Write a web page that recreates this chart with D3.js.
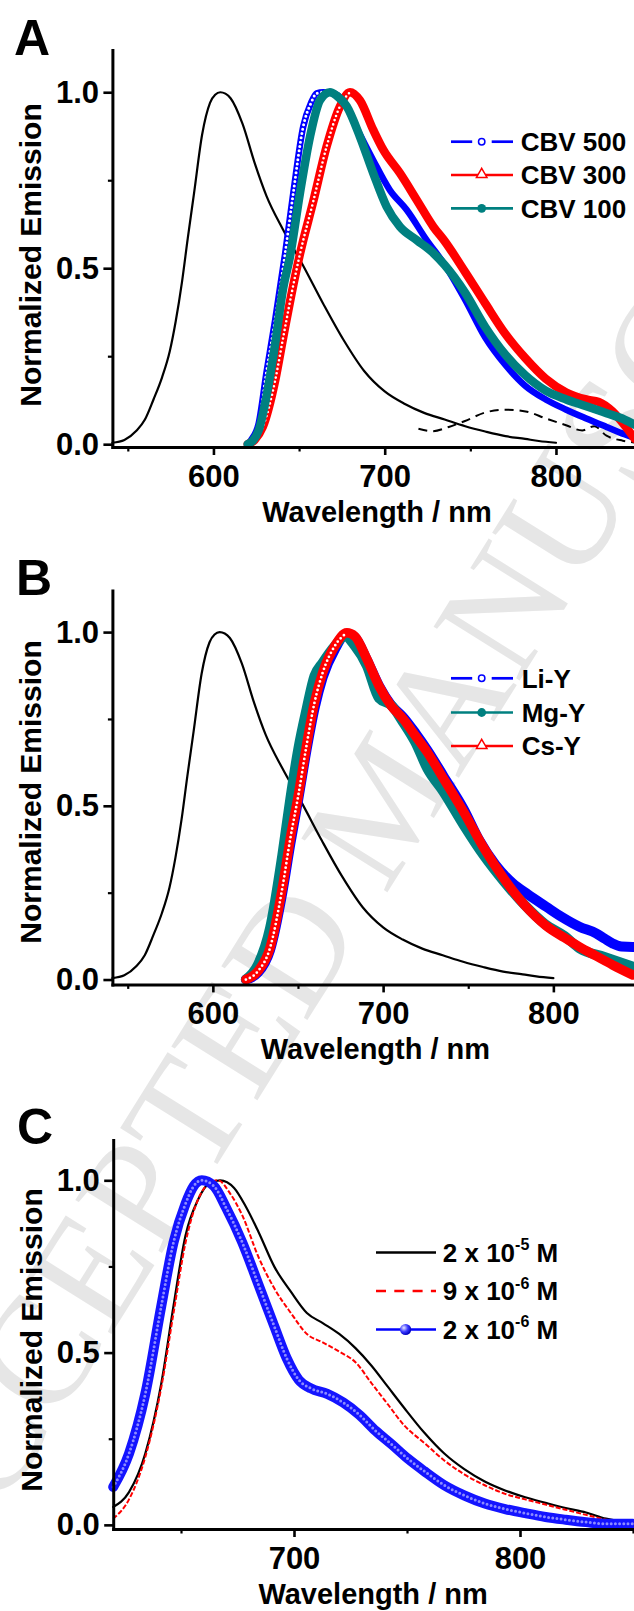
<!DOCTYPE html>
<html>
<head>
<meta charset="utf-8">
<script src="https://cdn.jsdelivr.net/npm/d3@7"></script>
<style>
  body { margin: 0; background: #fff; }
  svg { display: block; }
  text { font-family: "Liberation Sans", Arial, sans-serif; font-weight: bold; }
</style>
</head>
<body>
<svg id="chart"></svg>
<script>
// emission spectra, [wavelength nm, normalized emission]
const refEmission = [[541,0.004],[548,0.012],[555,0.038],[560,0.07],[565,0.127],[570,0.19],[574.5,0.264],[578,0.35],[581.6,0.46],[585,0.585],[588.7,0.714],[593.4,0.88],[598,0.97],[601,0.993],[604,1.0],[607,0.996],[610,0.983],[617,0.91],[624,0.80],[631,0.705],[640.6,0.61],[652.4,0.507],[664,0.40],[676,0.296],[688,0.208],[700,0.15],[711.5,0.115],[723,0.089],[735,0.07],[747,0.051],[758.7,0.036],[770.5,0.023],[782,0.015],[790,0.009],[800,0.004]];
const refDashed = [[719.7,0.044],[728,0.037],[737.4,0.049],[746.9,0.066],[758.7,0.09],[770.5,0.098],[782.3,0.093],[794.1,0.073],[805.9,0.054],[815.3,0.039],[822.4,0.051],[829.5,0.024],[839,0.01],[845.6,0.005]];

// panel A
const cbv500 = [[620,0],[622,0.012],[626.4,0.059],[631,0.205],[636,0.352],[641.8,0.54],[646.6,0.713],[652.4,0.902],[657,0.97],[660.3,0.997],[664,1.0],[669,0.998],[676,0.975],[683,0.905],[693.3,0.807],[703,0.722],[712.8,0.666],[724.5,0.58],[735,0.51],[747,0.41],[758.7,0.303],[770.5,0.225],[782,0.166],[794,0.127],[806,0.098],[817.7,0.073],[829.5,0.049],[840,0.028],[850,0.01]];
const cbv300 = [[620,0],[624,0.012],[628.8,0.049],[636,0.18],[640.6,0.30],[645.3,0.42],[650.5,0.54],[658.3,0.69],[666.1,0.846],[673.9,0.96],[679.7,1.0],[685.5,0.977],[693.3,0.893],[699.2,0.836],[708.9,0.77],[718.7,0.694],[728.4,0.618],[735,0.577],[747,0.489],[758.7,0.40],[770.5,0.313],[782,0.245],[794,0.186],[806,0.147],[817.7,0.127],[825,0.12],[833,0.093],[840,0.054],[846,0.015]];
const cbv100 = [[620,0],[623,0.01],[626.4,0.039],[631,0.137],[636,0.284],[640.6,0.44],[644.7,0.533],[650.5,0.713],[656.4,0.874],[662.2,0.977],[668,1.0],[672,0.99],[677.8,0.96],[685.5,0.874],[693.3,0.77],[701.1,0.675],[708.9,0.618],[718.7,0.58],[728.4,0.543],[735,0.509],[747,0.43],[758.7,0.333],[770.5,0.254],[782,0.196],[794,0.152],[806,0.127],[817.7,0.108],[829.5,0.088],[840,0.07],[846,0.055]];

// panel B
const liY = [[619.4,0],[626.5,0.02],[633.6,0.085],[640.8,0.25],[645.5,0.39],[650.2,0.52],[655,0.66],[659.7,0.78],[664.5,0.87],[671.6,0.95],[678.7,0.995],[683.4,0.985],[690.5,0.92],[697.6,0.845],[704.7,0.79],[711.8,0.755],[718.9,0.71],[726,0.66],[735.5,0.585],[747.4,0.49],[756.6,0.40],[766,0.33],[776.1,0.277],[785,0.245],[795.7,0.21],[805,0.18],[815.3,0.152],[825.1,0.133],[830,0.118],[834.8,0.104],[840,0.095],[846.6,0.094],[852,0.094]];
const mgY = [[619.4,0],[626.5,0.043],[633.6,0.148],[640.8,0.358],[645.5,0.52],[650.2,0.664],[655,0.777],[659.7,0.874],[664.5,0.912],[671.6,0.96],[677.5,0.988],[683.4,0.96],[690.5,0.903],[697.6,0.81],[704.7,0.79],[711.8,0.74],[718.9,0.683],[726,0.607],[735.5,0.54],[747.4,0.444],[759,0.358],[771,0.282],[783,0.215],[795,0.16],[806.6,0.125],[815.3,0.09],[830,0.065],[846.6,0.037]];
const csY = [[619.4,0],[626.5,0.024],[633.6,0.091],[640.8,0.263],[645.5,0.406],[650.2,0.53],[655,0.673],[659.7,0.797],[664.5,0.883],[671.6,0.96],[678.7,0.998],[683.4,0.988],[690.5,0.922],[697.6,0.845],[704.7,0.788],[711.8,0.75],[718.9,0.702],[726,0.654],[735.5,0.578],[747.4,0.482],[759,0.38],[771,0.29],[783,0.215],[795.7,0.155],[806.6,0.12],[815.3,0.094],[825,0.068],[834.8,0.042],[846.6,0.013]];

// panel C
const conc2e5 = [[620,0.052],[627,0.095],[634.2,0.207],[641.3,0.411],[646.7,0.636],[652,0.84],[657.4,0.942],[662.8,0.993],[667.3,1.0],[673.5,0.978],[678.9,0.921],[684.3,0.85],[691.4,0.748],[698.6,0.677],[705.7,0.615],[712.9,0.585],[720,0.554],[727.2,0.513],[734.3,0.462],[741.5,0.401],[748.7,0.34],[757.6,0.268],[766.5,0.207],[775.5,0.161],[784.4,0.126],[793.4,0.10],[802.3,0.08],[811.3,0.064],[820.2,0.049],[829.2,0.036],[838,0.018],[850,0.005]];
const conc9e6 = [[620,0.018],[627,0.074],[634.2,0.197],[641.3,0.40],[646.7,0.615],[652,0.819],[657.4,0.942],[662.8,0.993],[666.4,1.0],[671.7,0.962],[677,0.90],[684.3,0.777],[691.4,0.685],[698.6,0.615],[705.7,0.554],[712.9,0.529],[720,0.503],[727.2,0.472],[734.3,0.411],[741.5,0.35],[748.7,0.289],[757.6,0.238],[766.5,0.187],[775.5,0.146],[784.4,0.115],[793.4,0.09],[802.3,0.074],[811.3,0.059],[820.2,0.044],[829.2,0.029],[838,0.015],[850,0.004]];
const conc2e6 = [[620,0.11],[627,0.207],[634.2,0.38],[641.3,0.636],[646.7,0.82],[652,0.932],[655.6,0.983],[659.2,1.0],[664.6,0.983],[669.9,0.921],[677.1,0.82],[684.3,0.697],[691.4,0.574],[696.8,0.483],[702.1,0.421],[707.5,0.396],[714.7,0.38],[721.8,0.355],[729,0.319],[736.1,0.273],[743.3,0.233],[750.4,0.192],[757.6,0.156],[766.5,0.115],[775.5,0.085],[784.4,0.062],[793.4,0.046],[802.3,0.034],[811.3,0.023],[820.2,0.015],[829.2,0.008],[838,0.003],[850,0.003]];

// ticks and labels
const yTicks = [0, 0.5, 1.0];
const yMinor = [0.25, 0.75];
const xTicksAB = [600, 700, 800];
const xMinorAB = [550, 650, 750, 850];
const xTicksC = [700, 800];
const xMinorC = [650, 750, 850];
const legendA = ['CBV 500', 'CBV 300', 'CBV 100'];
const legendB = ['Li-Y', 'Mg-Y', 'Cs-Y'];
const legendC = [['2 x 10', '-5'], ['9 x 10', '-6'], ['2 x 10', '-6']];

const W = 634, H = 1611;
const BLUE = '#0000ff', RED = '#ff0000', TEAL = '#008080';

const svg = d3.select('#chart').attr('width', W).attr('height', H);

const defs = svg.append('defs');
const grad = defs.append('radialGradient').attr('id', 'ball')
  .attr('cx', '35%').attr('cy', '35%').attr('r', '65%');
grad.append('stop').attr('offset', '0%').attr('stop-color', '#e8e8ff');
grad.append('stop').attr('offset', '55%').attr('stop-color', '#3a3aff');
grad.append('stop').attr('offset', '100%').attr('stop-color', '#0000c0');

// watermark
svg.append('text')
  .attr('transform', 'translate(-60,1608) rotate(-58)')
  .style('font-family', '"Liberation Serif", "Times New Roman", serif')
  .style('font-weight', 'normal')
  .attr('font-size', 155)
  .attr('fill', '#e6e6e6')
  .text('ACCEPTED MANUSCRIPT');

const panels = [
  {
    label: 'A', labelX: 14, labelY: 55,
    xRange: [112.4, 641.6], xDomain: [541, 850],
    yRange: [447, 50], yDomain: [-0.008, 1.12],
    xTicks: xTicksAB, xMinor: xMinorAB, yTitleY: 255,
    series: [
      { data: refEmission, kind: 'line', color: '#000', width: 2.2 },
      { data: refDashed, kind: 'line', color: '#000', width: 2, dash: '9 6' },
      { data: cbv500, kind: 'hollow', color: BLUE, width: 6.5, hole: 3, gap: 4.4, holeTo: 664 },
      { data: cbv300, kind: 'hollow', color: RED, width: 8.5, hole: 2.6, gap: 4.4, holeTo: 679.7 },
      { data: cbv100, kind: 'band', color: TEAL, width: 8.5 }
    ],
    legend: {
      rows: [141.7, 175, 208.3], x0: 451, x1: 513, mx: 481.7, tx: 520.7,
      items: [
        { text: legendA[0], color: BLUE, marker: 'circle', split: true },
        { text: legendA[1], color: RED, marker: 'triangle' },
        { text: legendA[2], color: TEAL, marker: 'dot' }
      ]
    }
  },
  {
    label: 'B', labelX: 16, labelY: 594.7,
    xRange: [112.4, 638.5], xDomain: [541, 850],
    yRange: [984.4, 590.4], yDomain: [-0.014, 1.12],
    xTicks: xTicksAB, xMinor: xMinorAB, yTitleY: 792,
    series: [
      { data: refEmission, kind: 'line', color: '#000', width: 2.2 },
      { data: liY, kind: 'band', color: BLUE, width: 10 },
      { data: mgY, kind: 'band', color: TEAL, width: 10 },
      { data: csY, kind: 'hollow', color: RED, width: 9.5, hole: 2.8, gap: 4.4, holeTo: 678.7 }
    ],
    legend: {
      rows: [678.3, 712.5, 746], x0: 451, x1: 513, mx: 481.7, tx: 521.7,
      items: [
        { text: legendB[0], color: BLUE, marker: 'circle', split: true },
        { text: legendB[1], color: TEAL, marker: 'dot' },
        { text: legendB[2], color: RED, marker: 'triangle' }
      ]
    }
  },
  {
    label: 'C', labelX: 17, labelY: 1143.5,
    xRange: [113.2, 633], xDomain: [620, 850],
    yRange: [1529, 1140], yDomain: [-0.012, 1.117],
    xTicks: xTicksC, xMinor: xMinorC, yTitleY: 1340,
    series: [
      { data: conc2e5, kind: 'line', color: '#000', width: 2.2 },
      { data: conc9e6, kind: 'line', color: RED, width: 2, dash: '5 2' },
      { data: conc2e6, kind: 'ball', color: '#1414ff', width: 10, hole: 3, gap: 4.2 }
    ],
    legend: {
      rows: [1252.5, 1291, 1329.5], x0: 376, x1: 436, mx: 405.6, tx: 442.8,
      items: [
        { sup: legendC[0], color: '#000', marker: null },
        { sup: legendC[1], color: RED, marker: null, dash: '10 8.3' },
        { sup: legendC[2], color: BLUE, marker: 'ball' }
      ]
    }
  }
];

panels.forEach(p => {
  const x = d3.scaleLinear().domain(p.xDomain).range(p.xRange);
  const y = d3.scaleLinear().domain(p.yDomain).range(p.yRange);
  const g = svg.append('g');

  const line = d3.line()
    .x(d => x(d[0]))
    .y(d => y(d[1]))
    .curve(d3.curveMonotoneX);

  // curves
  p.series.forEach(s => {
    const base = g.append('path')
      .attr('d', line(s.data))
      .attr('fill', 'none')
      .attr('stroke', s.color)
      .attr('stroke-width', s.width)
      .attr('stroke-linejoin', 'round')
      .attr('stroke-linecap', 'round');
    if (s.dash) base.attr('stroke-dasharray', s.dash).attr('stroke-linecap', 'butt');
    if (s.kind === 'hollow' || s.kind === 'ball') {
      // open markers show only where the points are spread apart (rising edge)
      const part = s.holeTo ? s.data.filter(d => d[0] <= s.holeTo) : s.data;
      g.append('path')
        .attr('d', line(part))
        .attr('fill', 'none')
        .attr('stroke', s.kind === 'ball' ? '#8c8cff' : '#fff')
        .attr('stroke-width', s.hole)
        .attr('stroke-linecap', 'round')
        .attr('stroke-dasharray', `0 ${s.gap}`);
    }
  });

  // axes
  const styleAxis = sel => {
    sel.select('.domain').attr('stroke-width', 3).attr('stroke-linecap', 'square');
    sel.selectAll('.tick line').attr('stroke-width', 2.6);
    sel.selectAll('text')
      .attr('font-size', 31)
      .attr('font-family', '"Liberation Sans", Arial, sans-serif')
      .attr('font-weight', 'bold')
      .attr('fill', '#000');
  };

  const xAxisY = p.yRange[0];
  const yAxisX = p.xRange[0];

  g.append('g')
    .attr('transform', `translate(0,${xAxisY})`)
    .call(d3.axisBottom(x).tickValues(p.xMinor).tickSize(4.5).tickSizeOuter(0).tickFormat(''))
    .call(sel => { sel.select('.domain').remove(); sel.selectAll('line').attr('stroke-width', 2.2); });
  g.append('g')
    .attr('transform', `translate(${yAxisX},0)`)
    .call(d3.axisLeft(y).tickValues(yMinor).tickSize(4.5).tickSizeOuter(0).tickFormat(''))
    .call(sel => { sel.select('.domain').remove(); sel.selectAll('line').attr('stroke-width', 2.2); });

  g.append('g')
    .attr('transform', `translate(0,${xAxisY})`)
    .call(d3.axisBottom(x).tickValues(p.xTicks).tickSize(8).tickPadding(10).tickSizeOuter(0).tickFormat(d3.format('d')))
    .call(styleAxis);
  g.append('g')
    .attr('transform', `translate(${yAxisX},0)`)
    .call(d3.axisLeft(y).tickValues(yTicks).tickSize(9).tickPadding(4.4).tickSizeOuter(0).tickFormat(d3.format('.1f')))
    .call(styleAxis);

  // titles
  g.append('text')
    .attr('x', (p.xRange[0] + p.xRange[1]) / 2)
    .attr('y', xAxisY + 75)
    .attr('text-anchor', 'middle')
    .attr('font-size', 29)
    .text('Wavelength / nm');
  g.append('text')
    .attr('transform', `translate(${p.label === 'C' ? 41.5 : 40.5},${p.yTitleY}) rotate(-90)`)
    .attr('text-anchor', 'middle')
    .attr('font-size', 30)
    .text('Normalized Emission');
  g.append('text')
    .attr('x', p.labelX)
    .attr('y', p.labelY)
    .attr('font-size', 50)
    .text(p.label);

  // legend
  const L = p.legend;
  L.items.forEach((it, i) => {
    const ry = L.rows[i];
    const lg = g.append('g');
    if (it.split) {
      lg.append('line').attr('x1', L.x0).attr('x2', L.mx - 9.5).attr('y1', ry).attr('y2', ry)
        .attr('stroke', it.color).attr('stroke-width', 2.7);
      lg.append('line').attr('x1', L.mx + 10).attr('x2', L.x1).attr('y1', ry).attr('y2', ry)
        .attr('stroke', it.color).attr('stroke-width', 2.7);
    } else {
      const ln = lg.append('line').attr('x1', L.x0).attr('x2', L.x1).attr('y1', ry).attr('y2', ry)
        .attr('stroke', it.color).attr('stroke-width', it.dash ? 2.4 : 2.7);
      if (it.dash) ln.attr('stroke-dasharray', it.dash);
    }
    if (it.marker === 'circle') {
      lg.append('circle').attr('cx', L.mx).attr('cy', ry).attr('r', 3.2)
        .attr('fill', '#fff').attr('stroke', it.color).attr('stroke-width', 1.5);
    } else if (it.marker === 'triangle') {
      lg.append('path')
        .attr('d', d3.symbol(d3.symbolTriangle, 48)())
        .attr('transform', `translate(${L.mx},${ry - 0.6})`)
        .attr('fill', '#fff').attr('stroke', it.color).attr('stroke-width', 1.5);
    } else if (it.marker === 'dot') {
      lg.append('circle').attr('cx', L.mx).attr('cy', ry).attr('r', 4.4).attr('fill', it.color);
    } else if (it.marker === 'ball') {
      lg.append('circle').attr('cx', L.mx).attr('cy', ry).attr('r', 5.6).attr('fill', 'url(#ball)');
    }
    const t = lg.append('text').attr('x', L.tx).attr('y', ry + 9.3).attr('font-size', 26);
    if (it.sup) {
      t.append('tspan').text(it.sup[0]);
      t.append('tspan').attr('font-size', 16).attr('dy', -11.5).text(it.sup[1]);
      t.append('tspan').attr('dy', 11.5).text(' M');
    } else {
      t.text(it.text);
    }
  });
});
</script>
</body>
</html>
